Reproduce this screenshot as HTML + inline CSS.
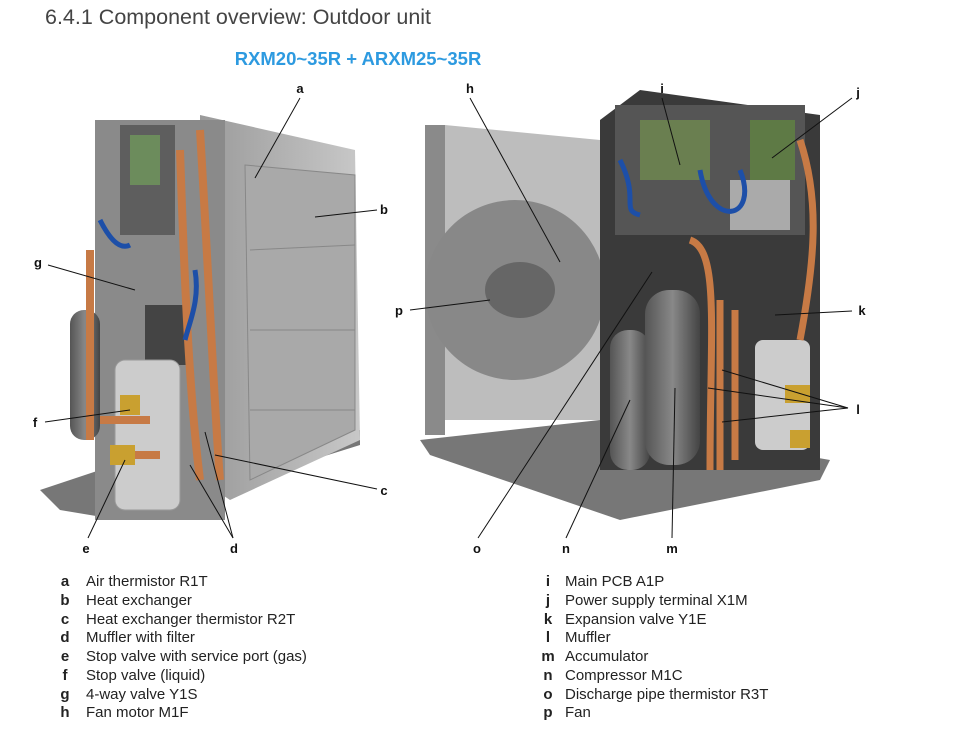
<!DOCTYPE html>
<html><head><meta charset="utf-8">
<style>
body{margin:0;background:#fff;width:973px;height:751px;overflow:hidden;font-family:"Liberation Sans",sans-serif;}
svg{position:absolute;left:0;top:0}
.t{font-family:"Liberation Sans",sans-serif}
</style></head><body>
<svg width="973" height="751" viewBox="0 0 973 751">
<defs>
<linearGradient id="g1" x1="0" x2="1"><stop offset="0" stop-color="#9a9a9a"/><stop offset="1" stop-color="#c8c8c8"/></linearGradient>
<linearGradient id="g2" x1="0" x2="1"><stop offset="0" stop-color="#555"/><stop offset=".5" stop-color="#888"/><stop offset="1" stop-color="#444"/></linearGradient>
</defs>
<text x="45" y="24" font-size="21.5" fill="#444" class="t">6.4.1  Component overview: Outdoor unit</text>
<text x="358" y="65" font-size="18.5" font-weight="bold" fill="#2d9ae0" text-anchor="middle" class="t">RXM20~35R + ARXM25~35R</text>

<polygon points="40,490 100,470 360,430 360,445 120,520 60,510" fill="#777"/>
<polygon points="200,115 355,150 360,440 230,500 200,480" fill="url(#g1)"/>
<polygon points="245,165 355,175 355,430 250,480" fill="#a9a9a9" stroke="#888"/>
<line x1="250" y1="250" x2="355" y2="245" stroke="#888"/><line x1="250" y1="330" x2="355" y2="330" stroke="#888"/><line x1="250" y1="410" x2="355" y2="410" stroke="#888"/>
<rect x="95" y="120" width="130" height="400" fill="#8a8a8a"/>
<rect x="120" y="125" width="55" height="110" fill="#5e5e5e"/>
<rect x="130" y="135" width="30" height="50" fill="#6c8c5c"/>
<rect x="70" y="310" width="30" height="130" rx="14" fill="url(#g2)"/>
<rect x="145" y="305" width="45" height="60" fill="#444"/>
<rect x="115" y="360" width="65" height="150" rx="10" fill="#ccc" stroke="#999"/>
<path d="M180,150 C185,300 190,400 200,480 M200,130 C210,300 215,420 220,480 M100,420 L150,420 M110,455 L160,455 M90,250 L90,440" stroke="#c77a45" stroke-width="8" fill="none"/>
<path d="M100,220 C110,240 120,250 130,245 M195,270 C200,300 190,320 185,340" stroke="#1d4fa8" stroke-width="5" fill="none"/>
<rect x="120" y="395" width="20" height="20" fill="#c9a030"/><rect x="110" y="445" width="25" height="20" fill="#c9a030"/>

<polygon points="420,440 600,420 830,460 820,480 620,520 430,455" fill="#777"/>
<rect x="425" y="125" width="20" height="310" fill="#8a8a8a"/>
<polygon points="445,125 600,140 600,420 445,420" fill="#bdbdbd"/>
<circle cx="515" cy="290" r="90" fill="#888"/>
<ellipse cx="520" cy="290" rx="35" ry="28" fill="#666"/>
<polygon points="600,120 640,90 820,115 820,470 600,470" fill="#3a3a3a"/>
<rect x="615" y="105" width="190" height="130" fill="#555"/>
<rect x="640" y="120" width="70" height="60" fill="#6a7f50"/>
<rect x="750" y="120" width="45" height="60" fill="#5e7a45"/>
<rect x="730" y="180" width="60" height="50" fill="#aaa"/>
<rect x="610" y="330" width="40" height="140" rx="18" fill="url(#g2)"/>
<rect x="645" y="290" width="55" height="175" rx="24" fill="url(#g2)"/>
<rect x="755" y="340" width="55" height="110" rx="8" fill="#ccc"/>
<path d="M690,240 C720,250 710,330 710,470 M720,300 L720,470 M735,310 L735,460 M800,140 C820,200 815,260 800,340" stroke="#c77a45" stroke-width="7" fill="none"/>
<path d="M700,170 C710,230 760,220 740,170 M620,160 C640,200 620,210 640,215" stroke="#1d4fa8" stroke-width="5" fill="none"/>
<rect x="785" y="385" width="25" height="18" fill="#c9a030"/><rect x="790" y="430" width="20" height="18" fill="#c9a030"/>

<g stroke="#111" stroke-width="1" fill="none">
<line x1="300" y1="98" x2="255" y2="178"/>
<line x1="377" y1="210" x2="315" y2="217"/>
<line x1="48" y1="265" x2="135" y2="290"/>
<line x1="45" y1="422" x2="130" y2="410"/>
<line x1="88" y1="538" x2="125" y2="460"/>
<line x1="233" y1="538" x2="190" y2="465"/><line x1="233" y1="538" x2="205" y2="432"/>
<line x1="377" y1="489" x2="215" y2="455"/>
<line x1="470" y1="98" x2="560" y2="262"/>
<line x1="662" y1="98" x2="680" y2="165"/>
<line x1="852" y1="98" x2="772" y2="158"/>
<line x1="410" y1="310" x2="490" y2="300"/>
<line x1="852" y1="311" x2="775" y2="315"/>
<line x1="848" y1="408" x2="722" y2="370"/><line x1="848" y1="408" x2="708" y2="388"/><line x1="848" y1="408" x2="722" y2="422"/>
<line x1="478" y1="538" x2="652" y2="272"/>
<line x1="566" y1="538" x2="630" y2="400"/>
<line x1="672" y1="538" x2="675" y2="388"/>
</g>
<g font-size="13" font-weight="bold" fill="#111" class="t" text-anchor="middle">
<text x="300" y="93">a</text><text x="470" y="93">h</text><text x="662" y="93">i</text><text x="858" y="97">j</text>
<text x="384" y="214">b</text><text x="38" y="267">g</text><text x="399" y="315">p</text><text x="862" y="315">k</text>
<text x="35" y="427">f</text><text x="858" y="414">l</text><text x="384" y="495">c</text>
<text x="86" y="553">e</text><text x="234" y="553">d</text><text x="477" y="553">o</text><text x="566" y="553">n</text><text x="672" y="553">m</text>
</g>
<g font-size="15" fill="#222" class="t">
<g font-weight="bold" text-anchor="middle">
<text x="65" y="586">a</text><text x="65" y="605">b</text><text x="65" y="624">c</text><text x="65" y="642">d</text><text x="65" y="661">e</text><text x="65" y="680">f</text><text x="65" y="699">g</text><text x="65" y="717">h</text>
<text x="548" y="586">i</text><text x="548" y="605">j</text><text x="548" y="624">k</text><text x="548" y="642">l</text><text x="548" y="661">m</text><text x="548" y="680">n</text><text x="548" y="699">o</text><text x="548" y="717">p</text>
</g>
<text x="86" y="586">Air thermistor R1T</text><text x="86" y="605">Heat exchanger</text><text x="86" y="624">Heat exchanger thermistor R2T</text><text x="86" y="642">Muffler with filter</text><text x="86" y="661">Stop valve with service port (gas)</text><text x="86" y="680">Stop valve (liquid)</text><text x="86" y="699">4-way valve Y1S</text><text x="86" y="717">Fan motor M1F</text>
<text x="565" y="586">Main PCB A1P</text><text x="565" y="605">Power supply terminal X1M</text><text x="565" y="624">Expansion valve Y1E</text><text x="565" y="642">Muffler</text><text x="565" y="661">Accumulator</text><text x="565" y="680">Compressor M1C</text><text x="565" y="699">Discharge pipe thermistor R3T</text><text x="565" y="717">Fan</text>
</g>
</svg>
</body></html>
